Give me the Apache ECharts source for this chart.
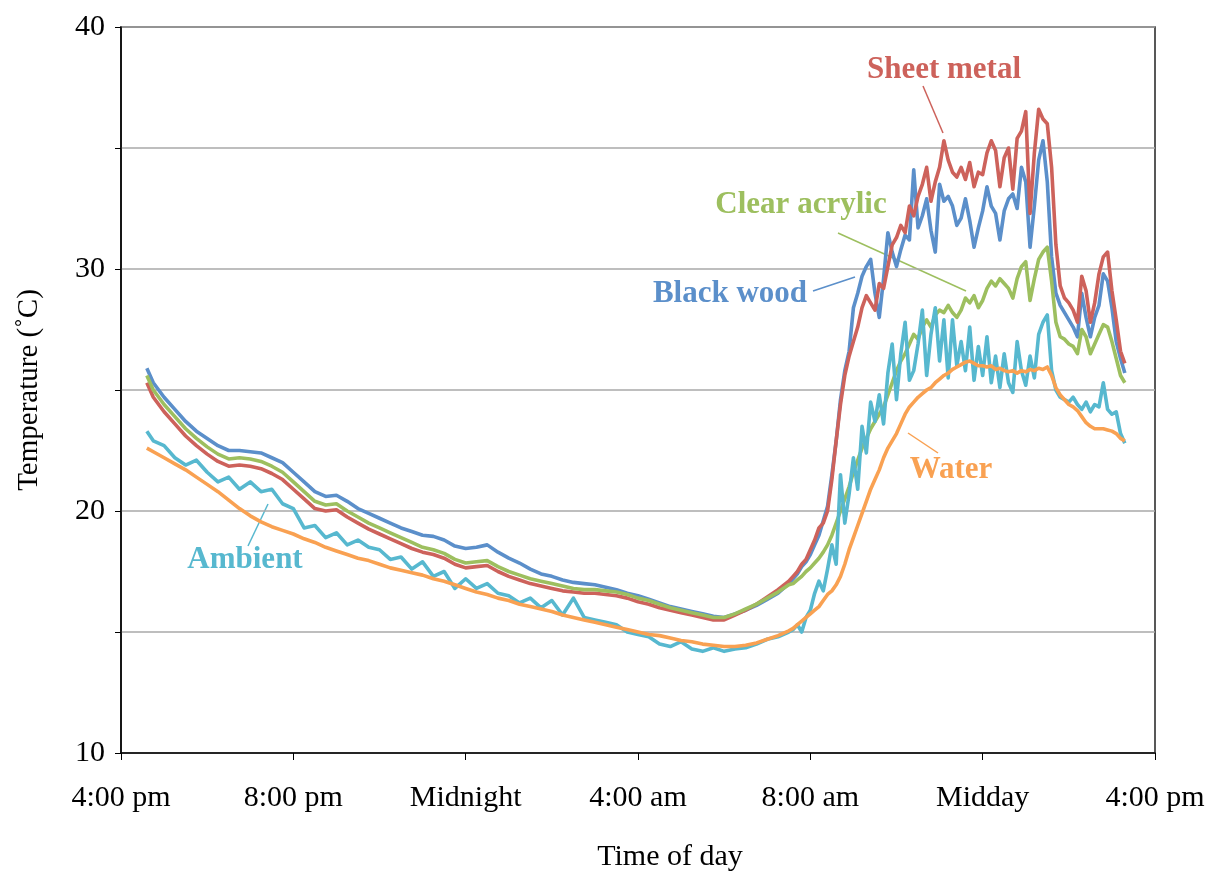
<!DOCTYPE html>
<html>
<head>
<meta charset="utf-8">
<title>Temperature by time of day</title>
<script src="https://cdn.jsdelivr.net/npm/echarts@6/dist/echarts.min.js"></script>
<style>
  html, body { margin: 0; background: #fff; }
  #main { width: 1226px; height: 876px; }
</style>
</head>
<body>
<div id="main"></div>
<script>
// hours after midnight of day 1 (16 = 4:00 pm, 40 = 4:00 pm next day)
var hours = [
  16.6, 16.75, 17, 17.25, 17.5, 17.75, 18, 18.25, 18.5, 18.75,
  19, 19.25, 19.5, 19.75, 20, 20.25, 20.5, 20.75, 21, 21.25,
  21.5, 21.75, 22, 22.25, 22.5, 22.75, 23, 23.25, 23.5, 23.75,
  24, 24.25, 24.5, 24.75, 25, 25.25, 25.5, 25.75, 26, 26.25,
  26.5, 26.75, 27, 27.25, 27.5, 27.75, 28, 28.25, 28.5, 28.75,
  29, 29.25, 29.5, 29.75, 30, 30.25, 30.5, 30.75, 31, 31.25,
  31.5,
  31.6, 31.7, 31.8, 31.9, 32.0, 32.1, 32.2, 32.3, 32.4, 32.5,
  32.6, 32.7, 32.8, 32.9, 33.0, 33.1, 33.2, 33.3, 33.4, 33.5,
  33.6, 33.7, 33.8, 33.9, 34.0, 34.1, 34.2, 34.3, 34.4, 34.5,
  34.6, 34.7, 34.8, 34.9, 35.0, 35.1, 35.2, 35.3, 35.4, 35.5,
  35.6, 35.7, 35.8, 35.9, 36.0, 36.1, 36.2, 36.3, 36.4, 36.5,
  36.6, 36.7, 36.8, 36.9, 37.0, 37.1, 37.2, 37.3, 37.4, 37.5,
  37.6, 37.7, 37.8, 37.9, 38.0, 38.1, 38.2, 38.3, 38.4, 38.5,
  38.6, 38.7, 38.8, 38.9, 39.0, 39.1, 39.2, 39.3
];

var blackWood = [
  25.9, 25.3, 24.7, 24.2, 23.7, 23.3, 23.0, 22.7, 22.5, 22.5,
  22.45, 22.4, 22.2, 22.0, 21.6, 21.2, 20.8, 20.6, 20.65, 20.4,
  20.1, 19.9, 19.7, 19.5, 19.3, 19.15, 19.0, 18.95, 18.8, 18.55,
  18.45, 18.5, 18.6, 18.3, 18.05, 17.85, 17.6, 17.4, 17.3, 17.15,
  17.05, 17.0, 16.95, 16.85, 16.75, 16.6, 16.5, 16.35, 16.2, 16.05,
  15.95, 15.85, 15.75, 15.65, 15.6, 15.75, 15.9, 16.1, 16.35, 16.6,
  17.0,
  17.2, 17.4, 17.7, 17.9, 18.2, 18.6, 19.0, 19.6, 20.2, 21.5,
  22.9, 24.6, 25.8, 26.6, 28.4, 29.0, 29.7, 30.1, 30.4, 29.0,
  28.0, 29.6, 31.5, 30.7, 30.1, 30.8, 31.4, 31.2, 34.1, 31.7,
  32.2, 32.9, 31.6, 30.7, 33.5, 32.8, 33.0, 32.6, 31.8, 32.1,
  32.9, 32.0, 30.9, 31.7, 32.4, 33.4, 32.6, 32.3, 31.2, 32.4,
  32.9, 33.1, 32.5, 34.2, 33.6, 30.9, 32.6, 34.5, 35.3, 33.6,
  30.5, 29.0, 28.5, 28.2, 27.9, 27.6, 27.2, 29.0, 28.0, 27.2,
  28.0, 28.5, 29.8, 29.5, 28.4, 27.0, 26.3, 25.7
];

var sheetMetal = [
  25.3, 24.7, 24.1, 23.6, 23.1, 22.7, 22.35, 22.05, 21.85, 21.9,
  21.85, 21.75, 21.55, 21.3, 20.9, 20.5, 20.1, 20.0, 20.05, 19.75,
  19.5, 19.25, 19.05, 18.85, 18.65, 18.45, 18.3, 18.2, 18.05, 17.8,
  17.65, 17.7, 17.75, 17.5, 17.3, 17.15, 17.0, 16.9, 16.8, 16.7,
  16.65, 16.6, 16.6, 16.55, 16.5, 16.4, 16.25, 16.15, 16.0, 15.9,
  15.8, 15.7, 15.6, 15.5, 15.5, 15.7, 15.9, 16.15, 16.45, 16.75,
  17.1,
  17.3, 17.5, 17.8, 18.0, 18.4, 18.8, 19.3, 19.5, 20.0, 21.3,
  22.9, 24.4, 25.6, 26.4, 27.0, 27.6, 28.4, 28.9, 28.6, 28.3,
  29.4, 29.2, 30.1, 31.0, 31.3, 31.8, 31.5, 32.6, 32.2, 33.0,
  33.5, 34.2, 32.8, 33.6, 34.2, 35.3, 34.5, 34.0, 33.8, 34.2,
  33.7, 34.4, 33.4, 34.0, 33.9, 34.8, 35.3, 34.9, 33.4, 34.6,
  35.0, 33.3, 35.4, 35.7, 36.5, 32.3, 34.8, 36.6, 36.2, 36.0,
  34.2, 31.0, 29.3, 28.8, 28.6, 28.3, 27.8, 29.7, 29.1, 27.8,
  28.6, 29.8, 30.5, 30.7, 29.1, 27.9, 26.6, 26.1
];

var clearAcrylic = [
  25.6, 25.0, 24.4, 23.9, 23.4, 23.0, 22.65, 22.35, 22.15, 22.2,
  22.15, 22.05, 21.85, 21.6, 21.2, 20.8, 20.4, 20.25, 20.3, 20.0,
  19.75, 19.5, 19.3, 19.1, 18.9, 18.7, 18.5, 18.4, 18.25, 18.0,
  17.85, 17.9, 17.95, 17.7, 17.5, 17.35, 17.2, 17.1, 17.0, 16.9,
  16.8, 16.75, 16.75, 16.7, 16.65, 16.55, 16.4, 16.3, 16.15, 16.0,
  15.9, 15.8, 15.7, 15.6, 15.6, 15.75, 15.95, 16.15, 16.4, 16.65,
  16.95,
  17.0, 17.15, 17.3, 17.5, 17.65, 17.85, 18.05, 18.3, 18.6, 19.0,
  19.5, 20.0, 20.5, 21.0, 21.6, 22.1, 22.6, 23.0, 23.4, 23.7,
  24.0, 24.3, 24.8, 25.3, 25.8, 26.2, 26.5, 26.9, 27.3, 27.1,
  27.6, 27.9, 27.6, 28.1, 28.3, 28.2, 28.5, 28.2, 28.0, 28.3,
  28.8, 28.6, 28.9, 28.4, 28.7, 29.2, 29.5, 29.3, 29.6, 29.4,
  29.2, 28.8, 29.6, 30.1, 30.3, 28.7, 29.6, 30.4, 30.7, 30.9,
  29.5, 27.8, 27.2, 27.1, 26.9, 26.8, 26.5, 27.5, 27.2, 26.5,
  26.9, 27.3, 27.7, 27.6, 27.0, 26.3, 25.6, 25.3
];

var ambient = [
  23.3, 22.9, 22.7, 22.2, 21.9, 22.1, 21.6, 21.2, 21.4, 20.9,
  21.2, 20.8, 20.9, 20.3, 20.1, 19.3, 19.4, 18.9, 19.1, 18.6,
  18.8, 18.5, 18.4, 18.0, 18.1, 17.6, 17.9, 17.3, 17.5, 16.8,
  17.2, 16.8, 17.0, 16.6, 16.5, 16.2, 16.4, 16.0, 16.3, 15.7,
  16.4, 15.6, 15.5, 15.4, 15.3, 15.0, 14.9, 14.8, 14.5, 14.4,
  14.6, 14.3, 14.2, 14.35, 14.2, 14.3, 14.35, 14.5, 14.7, 14.8,
  15.0,
  15.1, 15.3, 15.0, 15.6, 15.9, 16.6, 17.1, 16.7, 17.6, 18.6,
  17.8, 21.5, 19.5, 20.7, 22.2, 20.9, 23.5, 22.4, 24.5, 23.7,
  24.8, 23.6, 25.7, 26.9, 24.6, 26.5, 27.8, 25.4, 25.8, 26.9,
  28.3, 25.6, 27.3, 28.4, 26.2, 27.9, 25.5, 27.9, 26.0, 27.0,
  25.8, 27.6, 25.4, 26.8, 25.6, 27.2, 25.3, 26.4, 25.1, 26.5,
  25.3, 24.9, 27.0, 25.8, 25.2, 26.4, 25.5, 27.3, 27.8, 28.1,
  25.8, 25.0, 24.7, 24.6, 24.5, 24.7, 24.4, 24.2, 24.5, 24.1,
  24.4, 24.3, 25.3, 24.2, 24.0, 24.1, 23.2, 22.8
];

var water = [
  22.6, 22.45, 22.2, 21.95, 21.7, 21.4, 21.1, 20.8, 20.45, 20.1,
  19.8, 19.55, 19.35, 19.2, 19.05, 18.85, 18.7, 18.5, 18.35, 18.2,
  18.05, 17.95, 17.8, 17.65, 17.55, 17.45, 17.35, 17.2, 17.1, 16.95,
  16.8, 16.65, 16.55, 16.4, 16.3, 16.15, 16.05, 15.95, 15.85, 15.7,
  15.6, 15.5, 15.4, 15.3, 15.2, 15.1, 15.0, 14.9, 14.85, 14.75,
  14.65, 14.6, 14.5, 14.45, 14.4, 14.4, 14.45, 14.55, 14.7, 14.85,
  15.05,
  15.15, 15.3, 15.45, 15.6, 15.75, 15.9, 16.05, 16.3, 16.55, 16.7,
  16.95, 17.3, 17.8, 18.4, 18.9, 19.4, 19.9, 20.4, 20.9, 21.3,
  21.7, 22.2, 22.6, 22.9, 23.2, 23.6, 24.0, 24.3, 24.5, 24.7,
  24.85, 25.0, 25.1, 25.3, 25.45, 25.6, 25.7, 25.85, 25.95, 26.05,
  26.15, 26.2, 26.1, 26.0, 26.0, 25.95, 26.0, 25.85, 25.9, 25.8,
  25.75, 25.8, 25.7, 25.8, 25.75, 25.85, 25.8, 25.9, 25.85, 25.95,
  25.6, 25.1, 24.8, 24.6, 24.4, 24.3, 24.15, 23.9, 23.65, 23.5,
  23.4, 23.4, 23.4, 23.35, 23.3, 23.2, 23.0, 22.9
];

var tickHours = [16, 20, 24, 28, 32, 36, 40];
var tickLabels = ['4:00 pm', '8:00 pm', 'Midnight', '4:00 am', '8:00 am', 'Midday', '4:00 pm'];
var yLabels = [10, 20, 30, 40];

var FONT = "'Liberation Serif', 'Times New Roman', serif";
var colors = {
  wood: '#5B8FCA',
  metal: '#CD625B',
  acrylic: '#9DBF5F',
  ambient: '#57B8CF',
  water: '#F9A152'
};

function pairs(vals) {
  return hours.map(function (h, i) { return [h, vals[i]]; });
}

function lineSeries(name, vals, color) {
  return {
    name: name,
    type: 'line',
    data: pairs(vals),
    showSymbol: false,
    symbol: 'none',
    lineStyle: { color: color, width: 3.6, join: 'round' },
    itemStyle: { color: color }
  };
}

// label text + pointer line
function note(text, cx, cy, color, x1, y1, x2, y2) {
  return [
    {
      type: 'text', x: cx, y: cy,
      style: {
        text: text, fill: color, font: 'bold 31px ' + FONT,
        textAlign: 'center', textVerticalAlign: 'middle'
      }
    },
    {
      type: 'line',
      shape: { x1: x1, y1: y1, x2: x2, y2: y2 },
      style: { stroke: color, lineWidth: 1.5 }
    }
  ];
}

var myChart = echarts.init(document.getElementById('main'));

var graphics = [].concat(
  note('Sheet metal', 944, 70, colors.metal, 923, 86, 943, 133),
  note('Clear acrylic', 801, 205, colors.acrylic, 838, 233, 966, 291),
  note('Black wood', 730, 294, colors.wood, 813, 291, 855, 277),
  note('Water', 951, 470, colors.water, 908, 433, 938, 453),
  note('Ambient', 245, 560, colors.ambient, 248, 546, 268, 504),
  [
    {
      type: 'text', x: 670, y: 857,
      style: { text: 'Time of day', fill: '#000', font: '30px ' + FONT,
               textAlign: 'center', textVerticalAlign: 'middle' }
    },
    {
      type: 'text', x: 29, y: 390, rotation: Math.PI / 2,
      style: { text: 'Temperature (\u02DAC)', fill: '#000', font: '29px ' + FONT,
               textAlign: 'center', textVerticalAlign: 'middle' }
    }
  ]
);

var option = {
  animation: false,
  backgroundColor: '#fff',
  grid: {
    left: 121, right: 71, top: 27, bottom: 123,
    show: true, borderColor: '#222', borderWidth: 1.5
  },
  xAxis: {
    type: 'value',
    min: 16, max: 40, interval: 4,
    axisLine: { lineStyle: { color: '#000', width: 1.5 } },
    axisTick: { show: true, length: 7, lineStyle: { color: '#000' } },
    splitLine: { show: false },
    axisLabel: {
      margin: 30,
      color: '#000',
      fontFamily: FONT,
      fontSize: 30,
      formatter: function (v) {
        var i = tickHours.indexOf(v);
        return i >= 0 ? tickLabels[i] : '';
      }
    }
  },
  yAxis: {
    type: 'value',
    min: 10, max: 40, interval: 5,
    axisLine: { show: true, lineStyle: { color: '#000', width: 1.5 } },
    axisTick: { show: true, length: 6, lineStyle: { color: '#000' } },
    splitLine: { show: true, lineStyle: { color: '#A8A8A8', width: 1.5 } },
    axisLabel: {
      margin: 16,
      color: '#000',
      fontFamily: FONT,
      fontSize: 30,
      formatter: function (v) {
        return yLabels.indexOf(v) >= 0 ? String(v) : '';
      }
    }
  },
  series: [
    lineSeries('Black wood', blackWood, colors.wood),
    lineSeries('Sheet metal', sheetMetal, colors.metal),
    lineSeries('Clear acrylic', clearAcrylic, colors.acrylic),
    lineSeries('Ambient', ambient, colors.ambient),
    lineSeries('Water', water, colors.water)
  ],
  graphic: graphics
};

myChart.setOption(option);
</script>
</body>
</html>
